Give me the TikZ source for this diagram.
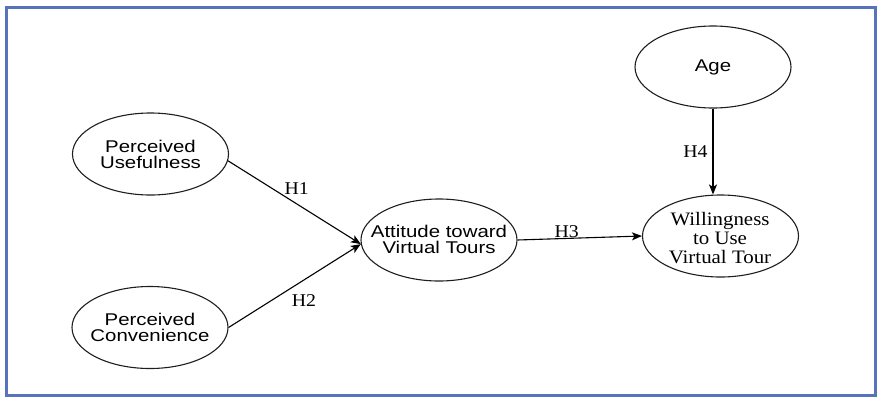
\documentclass[tikz,border=0pt]{standalone}
\usepackage{fontspec}
\setmainfont{Liberation Serif}
\newfontfamily\arialx{Liberation Sans}[FakeStretch=1.2]
\newfontfamily\timesx{Liberation Serif}[FakeStretch=1.1]
\usetikzlibrary{shapes.geometric,arrows.meta}
\definecolor{frameblue}{RGB}{88,115,190}
\definecolor{ink}{RGB}{30,30,30}
\begin{document}
\begin{tikzpicture}[x=1pt,y=-1pt,
  ell/.style={ellipse,draw=ink,line width=1.1pt,inner sep=0pt,minimum width=156pt,minimum height=82pt},
  stxt/.style={align=center,inner sep=0pt,font=\arialx\fontsize{17}{16}\selectfont},
  rtxt/.style={align=center,inner sep=0pt,font=\timesx\fontsize{19}{19}\selectfont},
  lbl/.style={inner sep=0pt,font=\timesx\fontsize{18}{18}\selectfont},
  arr/.style={draw=black,line width=1.1pt,-{Stealth[length=10pt,width=8pt,inset=2.5pt]}}]
\useasboundingbox (0,0) rectangle (878,399);
\node[draw=frameblue,line width=2.5pt,minimum width=869pt,minimum height=388pt,inner sep=0pt] (frame) at (441,401.5/2+0.5) {};
% ellipses
\node[ell] (pu) at (150.5,154) {};
\node[ell] (pc) at (150,327.5) {};
\node[ell] (att) at (439,240) {};
\node[ell] (age) at (713,67) {};
\node[ell] (wil) at (720.5,236) {};
% texts
\node[stxt] (pu-t) at (pu) {Perceived\\Usefulness};
\node[stxt] (pc-t) at (pc) {Perceived\\Convenience};
\node[stxt] (att-t) at (439,239) {Attitude toward\\Virtual Tours};
\node[stxt] (age-t) at (age) {Age};
\node[rtxt] (wil-t) at (720,238) {Willingness\\to Use\\Virtual Tour};
% connectors
\draw[arr] (pu.-5) -- (att.183);
\draw[arr] (pc.east) -- (att.183);
\draw[arr] (att.east) -- (wil.west);
\draw[arr] (age.south) -- (age.south |- wil.north);
% labels
\node[lbl] (h1) at (296.7,189) {H1};
\node[lbl] (h2) at (304,300.5) {H2};
\node[lbl] (h3) at (566.7,231.5) {H3};
\node[lbl] (h4) at (695.5,152) {H4};
\end{tikzpicture}
\end{document}
